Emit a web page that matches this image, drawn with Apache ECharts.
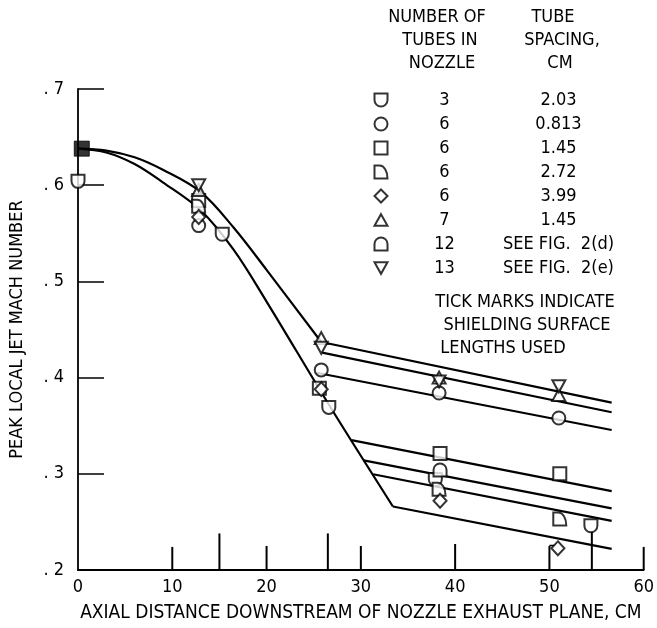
<!DOCTYPE html>
<html>
<head>
<meta charset="utf-8">
<script src="https://cdn.jsdelivr.net/npm/echarts@6/dist/echarts.min.js"></script>
<style>
  html, body { margin: 0; padding: 0; background: #fff; }
  #chart { width: 657px; height: 628px; }
</style>
</head>
<body>
<div id="chart"></div>
<script>
// Peak local jet Mach number against axial distance for several tube nozzles.
const FONT = "'Liberation Sans Narrow', 'DejaVu Sans Condensed', 'Roboto Condensed', 'Liberation Sans', sans-serif";

// axis ticks
const xTickValues = [0, 10, 20, 30, 40, 50, 60];
const yTickValues = [0.2, 0.3, 0.4, 0.5, 0.6, 0.7];

// legend table
const tubeCounts = ['3', '6', '6', '6', '6', '7', '12', '13'];
const tubeSpacings = ['2.03', '0.813', '1.45', '2.72', '3.99', '1.45', 'SEE FIG.  2(d)', 'SEE FIG.  2(e)'];
const seriesNames = ['3 / 2.03', '6 / 0.813', '6 / 1.45', '6 / 2.72', '6 / 3.99', '7 / 1.45', '12', '13'];

// measured points [axial distance cm, peak Mach number]
const shield3 = [[0, 0.604], [15.3, 0.549], [26.6, 0.369], [37.9, 0.294], [54.4, 0.246]];
const circle6 = [[12.8, 0.558], [25.8, 0.408], [38.3, 0.384], [51.0, 0.358]];
const square6 = [[12.8, 0.584], [25.6, 0.389], [38.4, 0.321], [51.1, 0.300]];
const dee6 = [[12.8, 0.578], [38.3, 0.284], [51.1, 0.253]];
const diamond6 = [[12.8, 0.567], [25.8, 0.388], [38.4, 0.272], [50.9, 0.2225]];
const triangle7 = [[12.8, 0.595], [25.8, 0.441], [38.3, 0.400], [51.0, 0.382]];
const arch12 = [[38.4, 0.304]];
const invTriangle13 = [[12.8, 0.600], [25.8, 0.431], [38.3, 0.396], [51.0, 0.391]];
const commonStart = [[0.4, 0.638]];

// faired curves
const upperCurve = [[0, 0.638], [3, 0.636], [6, 0.629], [9, 0.616], [13, 0.593], [16.5, 0.556], [20, 0.512], [25.8, 0.437]];
const lowerCurve = [[0, 0.638], [3, 0.634], [6, 0.622], [9, 0.603], [13, 0.574], [16.5, 0.533], [20, 0.479], [26.6, 0.372], [33.4, 0.266]];
const line1 = [[25.8, 0.437], [56.6, 0.374]];
const line2 = [[25.9, 0.426], [56.6, 0.364]];
const line3 = [[25.3, 0.405], [56.6, 0.3455]];
const line4 = [[29.0, 0.335], [56.6, 0.282]];
const line5 = [[30.3, 0.314], [56.6, 0.264]];
const line6 = [[31.3, 0.2995], [56.6, 0.251]];
const line7 = [[33.4, 0.266], [56.6, 0.222]];

// shielding surface lengths [x, tick top]
const shieldTicks = [[10, 0.224], [15, 0.238], [20, 0.225], [26.5, 0.238], [30, 0.225], [40, 0.227], [50, 0.225], [54.5, 0.240], [60, 0.224]];
const flag50 = [[50, 0.2255], [50.6, 0.2255]];

const SYM = {
  shield: 'path://M0,0 L10,0 L10,5 A5,5 0 0 1 0,5 Z',
  arch: 'path://M0,10 L10,10 L10,5 A5,5 0 0 0 0,5 Z',
  dee: 'path://M0,0 L4,0 A6,10 0 0 1 10,10 L0,10 Z',
  inv: 'path://M0,0 L10,0 L5,9 Z',
  tri: 'path://M5,0 L10,9 L0,9 Z'
};

const hollow = { color: '#fff', borderColor: '#000', borderWidth: 2 };

function markers(name, data, symbol, size) {
  return {
    name, type: 'scatter', data, symbol, symbolSize: size,
    itemStyle: hollow, z: 5, silent: true,
    emphasis: { disabled: true }
  };
}

function stroke(data, smooth) {
  return {
    type: 'line', data, symbol: 'none', smooth: smooth || false,
    lineStyle: { color: '#000', width: 2.2 }, z: 3, silent: true,
    emphasis: { disabled: true }
  };
}

const chart = echarts.init(document.getElementById('chart'), null, { renderer: 'canvas' });

const textBits = [
  ['NUMBER OF', 437, 17], ['TUBES IN', 440, 40], ['NOZZLE', 442, 63],
  ['TUBE', 553, 17], ['SPACING,', 562, 40], ['CM', 560, 63],
  ['TICK MARKS INDICATE', 525, 302], ['SHIELDING SURFACE', 527, 325], ['LENGTHS USED', 503, 348]
];

chart.setOption({
  animation: false,
  backgroundColor: '#fff',
  grid: { left: 76, right: 11, top: 89, bottom: 57, containLabel: false },
  xAxis: {
    type: 'value', min: 0, max: 60, interval: 10,
    axisLine: { show: true, lineStyle: { color: '#000', width: 1.8 } },
    axisTick: { show: false },
    splitLine: { show: false },
    axisLabel: {
      color: '#000', fontFamily: FONT, fontSize: 18, margin: 8,
      customValues: xTickValues, formatter: v => String(v)
    },
    name: 'AXIAL DISTANCE DOWNSTREAM OF NOZZLE EXHAUST PLANE, CM',
    nameLocation: 'middle', nameGap: 34,
    nameTextStyle: { color: '#000', fontFamily: FONT, fontSize: 19 }
  },
  yAxis: {
    type: 'value', min: 0.2, max: 0.7, interval: 0.1,
    axisLine: { show: true, lineStyle: { color: '#000', width: 1.8 } },
    axisTick: { show: true, inside: true, length: 26, lineStyle: { color: '#000', width: 1.5 } },
    splitLine: { show: false },
    axisLabel: {
      color: '#000', fontFamily: FONT, fontSize: 18, margin: 14,
      formatter: v => '. ' + Math.round(v * 10)
    },
    name: 'PEAK LOCAL JET MACH NUMBER',
    nameLocation: 'middle', nameGap: 52, nameRotate: 90,
    nameTextStyle: { color: '#000', fontFamily: FONT, fontSize: 18 }
  },
  legend: {
    orient: 'vertical', left: 373.5, top: 91, padding: 0,
    itemWidth: 13, itemHeight: 13, itemGap: 6,
    selectedMode: false,
    data: seriesNames,
    formatter: name => {
      const i = seriesNames.indexOf(name);
      return '{n|' + tubeCounts[i] + '}{s|' + tubeSpacings[i] + '}';
    },
    textStyle: {
      color: '#000', fontFamily: FONT, fontSize: 18, lineHeight: 16,
      rich: {
        n: { width: 104, align: 'center', fontFamily: FONT, fontSize: 18, lineHeight: 16, color: '#000' },
        s: { width: 124, align: 'center', fontFamily: FONT, fontSize: 18, lineHeight: 16, color: '#000' }
      }
    }
  },
  graphic: textBits.map(([t, x, y]) => ({
    type: 'text', x, y, silent: true,
    style: { text: t, fill: '#000', fontFamily: FONT, fontSize: 18, align: 'center', verticalAlign: 'middle' }
  })),
  series: [
    stroke(upperCurve, 0.35),
    stroke(lowerCurve, 0.35),
    stroke(line1), stroke(line2), stroke(line3),
    stroke(line4), stroke(line5), stroke(line6), stroke(line7),
    {
      type: 'custom', data: shieldTicks, silent: true, z: 2,
      renderItem: (params, api) => {
        const x = api.value(0), top = api.value(1);
        const p0 = api.coord([x, 0.2]);
        const p1 = api.coord([x, top]);
        return { type: 'line', shape: { x1: p0[0], y1: p0[1], x2: p1[0], y2: p1[1] }, style: { stroke: '#000', lineWidth: 2 } };
      }
    },
    Object.assign(stroke(flag50), { lineStyle: { color: '#000', width: 1.5 } }),
    markers(seriesNames[0], shield3, SYM.shield, [13, 13]),
    markers(seriesNames[1], circle6, 'circle', 13),
    markers(seriesNames[2], square6, 'rect', 13),
    markers(seriesNames[3], dee6, SYM.dee, [13, 13]),
    markers(seriesNames[4], diamond6, 'diamond', [13, 14]),
    markers(seriesNames[5], triangle7, SYM.tri, [13, 12]),
    markers(seriesNames[6], arch12, SYM.arch, [13, 13]),
    markers(seriesNames[7], invTriangle13, SYM.inv, [13, 12]),
    {
      type: 'scatter', data: commonStart, symbol: 'rect', symbolSize: 15,
      itemStyle: { color: '#000', borderColor: '#000', borderWidth: 1 }, z: 6, silent: true
    }
  ]
});
</script>
</body>
</html>
